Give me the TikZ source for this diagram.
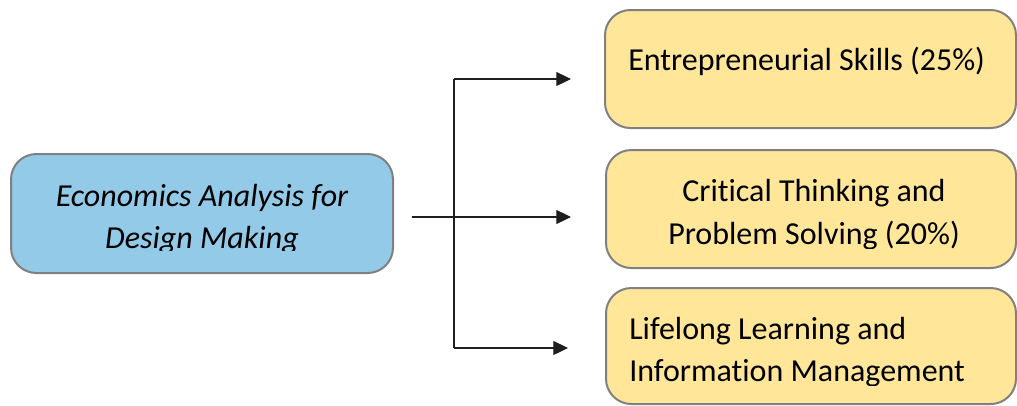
\documentclass[tikz,border=0pt]{standalone}
\usepackage{fontspec}
\setmainfont[Ligatures=CommonOff]{Carlito}
\usetikzlibrary{arrows.meta}
\definecolor{boxblue}{RGB}{146,202,232}
\definecolor{boxyellow}{RGB}{255,230,153}
\definecolor{boxline}{RGB}{128,128,128}
\definecolor{arrowline}{RGB}{30,30,30}
\tikzset{
  box/.style={draw=boxline, line width=1.5pt, rounded corners=19pt, inner sep=0pt},
  bluebox/.style={box, fill=boxblue},
  yellowbox/.style={box, fill=boxyellow},
  label/.style={inner sep=0pt, font=\fontsize{24pt}{31.7pt}\selectfont},
  conn/.style={draw=arrowline, line width=0.8pt},
  arr/.style={conn, -{Triangle[length=11pt,width=10.5pt]}},
}
\begin{document}
\begin{tikzpicture}[x=0.75pt,y=-0.75pt]
\useasboundingbox (0,0) rectangle (1017,405);
% boxes
\node[bluebox, minimum width=286.5pt, minimum height=89.25pt] (src) at (202,213.5) {};
\node[yellowbox, minimum width=308.25pt, minimum height=88.5pt] (b1) at (810.5,69) {};
\node[yellowbox, minimum width=307.5pt, minimum height=88.5pt] (b2) at (811,209) {};
\node[yellowbox, minimum width=307.5pt, minimum height=87pt] (b3) at (811,346) {};
% texts (clipped as in the picture)
\begin{scope}
\clip (0,150) rectangle (400,250);
\node[label, font=\fontsize{24pt}{31.7pt}\selectfont\itshape, align=center, anchor=base] (srct) at (202,248.3) {Economics Analysis for\\Design Making};
\end{scope}
\node[label, anchor=base west] (b1t) at (628,70) {Entrepreneurial Skills (25\%)};
\begin{scope}
\clip (606,150) rectangle (1017,248);
\node[label, align=center, anchor=base] (b2t) at (814,244) {Critical Thinking and\\Problem Solving (20\%)};
\end{scope}
\begin{scope}
\clip (606,288) rectangle (1017,385);
\node[label, align=left, anchor=base west] (b3t) at (629,381.7) {Lifelong Learning and\\Information Management};
\end{scope}
% connectors
\coordinate (s) at (412,217);
\coordinate (j1) at (454,79);
\coordinate (j3) at (454,348);
\coordinate (t1) at (571,79);
\coordinate (t2) at (571,217);
\coordinate (t3) at (568,348);
\draw[conn] (j1) -- (j3);
\draw[arr] (j1) -- (t1);
\draw[arr] (s) -- (t2);
\draw[arr] (j3) -- (t3);
\end{tikzpicture}
\end{document}
